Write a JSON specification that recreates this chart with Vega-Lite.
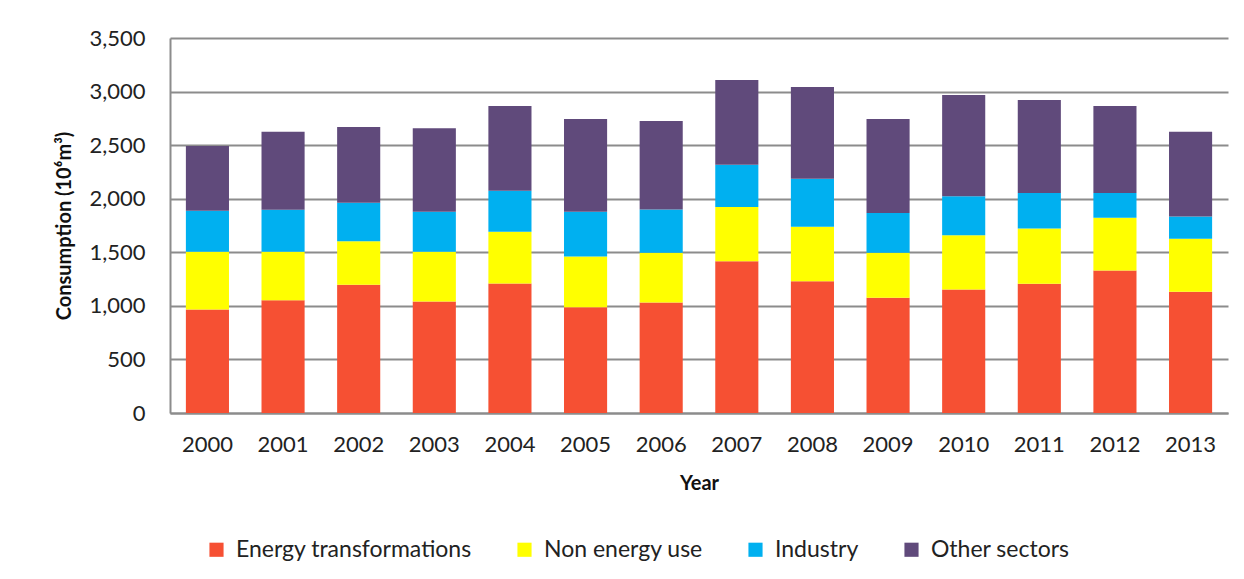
{
  "$schema": "https://vega.github.io/schema/vega-lite/v6.json",
  "autosize": "none",
  "width": 1058,
  "height": 375,
  "padding": {"left": 170, "top": 38, "right": 16, "bottom": 166},
  "background": "white",
  "data": {
    "values": [
      {"year": "2000", "sector": "Energy transformations", "value": 966},
      {"year": "2000", "sector": "Non energy use", "value": 539},
      {"year": "2000", "sector": "Industry", "value": 383},
      {"year": "2000", "sector": "Other sectors", "value": 604},
      {"year": "2001", "sector": "Energy transformations", "value": 1053},
      {"year": "2001", "sector": "Non energy use", "value": 452},
      {"year": "2001", "sector": "Industry", "value": 392},
      {"year": "2001", "sector": "Other sectors", "value": 729},
      {"year": "2002", "sector": "Energy transformations", "value": 1196},
      {"year": "2002", "sector": "Non energy use", "value": 408},
      {"year": "2002", "sector": "Industry", "value": 358},
      {"year": "2002", "sector": "Other sectors", "value": 708},
      {"year": "2003", "sector": "Energy transformations", "value": 1040},
      {"year": "2003", "sector": "Non energy use", "value": 465},
      {"year": "2003", "sector": "Industry", "value": 373},
      {"year": "2003", "sector": "Other sectors", "value": 779},
      {"year": "2004", "sector": "Energy transformations", "value": 1209},
      {"year": "2004", "sector": "Non energy use", "value": 482},
      {"year": "2004", "sector": "Industry", "value": 384},
      {"year": "2004", "sector": "Other sectors", "value": 791},
      {"year": "2005", "sector": "Energy transformations", "value": 987},
      {"year": "2005", "sector": "Non energy use", "value": 474},
      {"year": "2005", "sector": "Industry", "value": 417},
      {"year": "2005", "sector": "Other sectors", "value": 866},
      {"year": "2006", "sector": "Energy transformations", "value": 1031},
      {"year": "2006", "sector": "Non energy use", "value": 464},
      {"year": "2006", "sector": "Industry", "value": 405},
      {"year": "2006", "sector": "Other sectors", "value": 826},
      {"year": "2007", "sector": "Energy transformations", "value": 1417},
      {"year": "2007", "sector": "Non energy use", "value": 505},
      {"year": "2007", "sector": "Industry", "value": 396},
      {"year": "2007", "sector": "Other sectors", "value": 791},
      {"year": "2008", "sector": "Energy transformations", "value": 1230},
      {"year": "2008", "sector": "Non energy use", "value": 508},
      {"year": "2008", "sector": "Industry", "value": 449},
      {"year": "2008", "sector": "Other sectors", "value": 856},
      {"year": "2009", "sector": "Energy transformations", "value": 1075},
      {"year": "2009", "sector": "Non energy use", "value": 420},
      {"year": "2009", "sector": "Industry", "value": 371},
      {"year": "2009", "sector": "Other sectors", "value": 878},
      {"year": "2010", "sector": "Energy transformations", "value": 1153},
      {"year": "2010", "sector": "Non energy use", "value": 507},
      {"year": "2010", "sector": "Industry", "value": 362},
      {"year": "2010", "sector": "Other sectors", "value": 947},
      {"year": "2011", "sector": "Energy transformations", "value": 1206},
      {"year": "2011", "sector": "Non energy use", "value": 517},
      {"year": "2011", "sector": "Industry", "value": 330},
      {"year": "2011", "sector": "Other sectors", "value": 869},
      {"year": "2012", "sector": "Energy transformations", "value": 1330},
      {"year": "2012", "sector": "Non energy use", "value": 492},
      {"year": "2012", "sector": "Industry", "value": 231},
      {"year": "2012", "sector": "Other sectors", "value": 813},
      {"year": "2013", "sector": "Energy transformations", "value": 1131},
      {"year": "2013", "sector": "Non energy use", "value": 495},
      {"year": "2013", "sector": "Industry", "value": 209},
      {"year": "2013", "sector": "Other sectors", "value": 791}
    ]
  },
  "transform": [
    {"calculate": "indexof(['Energy transformations', 'Non energy use', 'Industry', 'Other sectors'], datum.sector)", "as": "stackOrder"}
  ],
  "mark": {"type": "bar"},
  "encoding": {
    "x": {
      "field": "year",
      "type": "ordinal",
      "scale": {"paddingInner": 0.43, "paddingOuter": 0.21},
      "axis": {
        "title": "Year",
        "labelAngle": 0,
        "labelPadding": 21,
        "titlePadding": 18
      }
    },
    "y": {
      "field": "value",
      "type": "quantitative",
      "scale": {"domain": [0, 3500]},
      "axis": {
        "title": "Consumption (10⁶m³)",
        "values": [0, 500, 1000, 1500, 2000, 2500, 3000, 3500],
        "format": ",d",
        "labelPadding": 25,
        "titlePadding": 14
      }
    },
    "order": {"field": "stackOrder", "type": "quantitative", "sort": "ascending"},
    "color": {
      "field": "sector",
      "type": "nominal",
      "scale": {
        "domain": ["Energy transformations", "Non energy use", "Industry", "Other sectors"],
        "range": ["#F65033", "#FFFF00", "#00B0F0", "#604A7B"]
      },
      "legend": {
        "orient": "none",
        "legendX": 35,
        "legendY": 500,
        "direction": "horizontal",
        "title": null,
        "symbolType": "square",
        "symbolSize": 200,
        "symbolStrokeWidth": 0,
        "labelFontSize": 23,
        "labelFont": "Lato",
        "labelColor": "#222222",
        "labelLimit": 500,
        "labelOffset": 8,
        "columnPadding": 41
      }
    }
  },
  "config": {
    "view": {"stroke": null},
    "axis": {
      "labelFont": "Lato",
      "titleFont": "Lato",
      "labelFontSize": 22,
      "labelColor": "#222222",
      "titleColor": "#111111",
      "titleFontSize": 20,
      "titleFontWeight": "bold",
      "ticks": false,
      "domainColor": "#8c8c8c",
      "domainWidth": 2,
      "gridColor": "#8c8c8c",
      "gridWidth": 2
    },
    "axisX": {"grid": false},
    "axisY": {"grid": true}
  }
}
